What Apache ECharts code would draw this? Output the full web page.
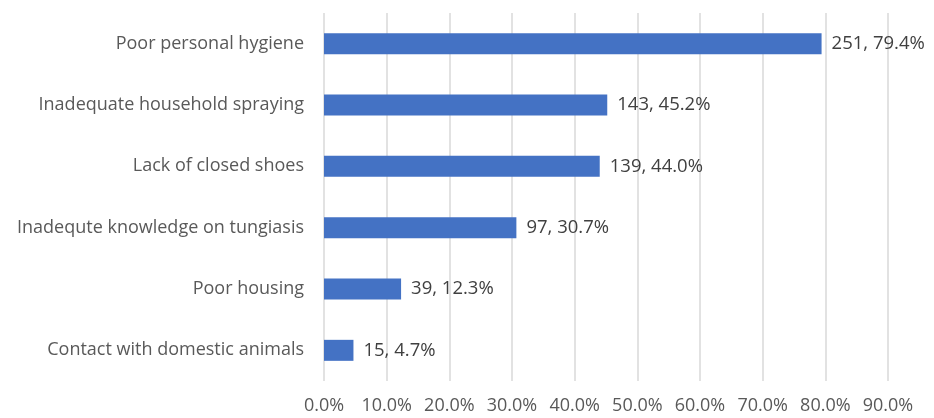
<!DOCTYPE html>
<html><head><meta charset="utf-8">
<script src="https://cdn.jsdelivr.net/npm/echarts@6/dist/echarts.min.js"></script>
<style>html,body{margin:0;padding:0;background:#fff}#c{width:934px;height:418px}</style>
</head><body><div id="c"></div>
<script>
const categories = ["Poor personal hygiene","Inadequate household spraying","Lack of closed shoes","Inadequte knowledge on tungiasis","Poor housing","Contact with domestic animals"];
const counts = [251,143,139,97,39,15];
const percents = [79.4,45.2,44.0,30.7,12.3,4.7];
const xTicks = [0,10,20,30,40,50,60,70,80,90];

const FONT = "'Open Sans', sans-serif";
const chart = echarts.init(document.getElementById('c'), null, {renderer:'canvas'});
chart.setOption({
  animation:false,
  grid:{left:324,right:46,top:13,bottom:37,containLabel:false},
  xAxis:{type:'value',min:xTicks[0],max:xTicks[xTicks.length-1],interval:10,
    axisLine:{show:false},axisTick:{show:false},
    splitLine:{show:true,lineStyle:{color:'#d9d9d9',width:1.5}},
    axisLabel:{formatter:v=>v.toFixed(1)+'%',color:'#595959',fontSize:18,fontFamily:FONT,margin:16}},
  yAxis:{type:'category',data:categories.slice().reverse(),
    axisLine:{show:false},axisTick:{show:false},
    axisLabel:{color:'#595959',fontSize:18,fontFamily:FONT,margin:20}},
  series:[{type:'bar',barWidth:21,
    data:percents.slice().reverse(),
    itemStyle:{color:'#4472C4'},
    label:{show:true,position:'right',distance:10,color:'#404040',fontSize:18.5,fontFamily:FONT,
      formatter:p=>{const i=categories.length-1-p.dataIndex;return counts[i]+', '+percents[i].toFixed(1)+'%';}}
  }]
});
</script></body></html>
